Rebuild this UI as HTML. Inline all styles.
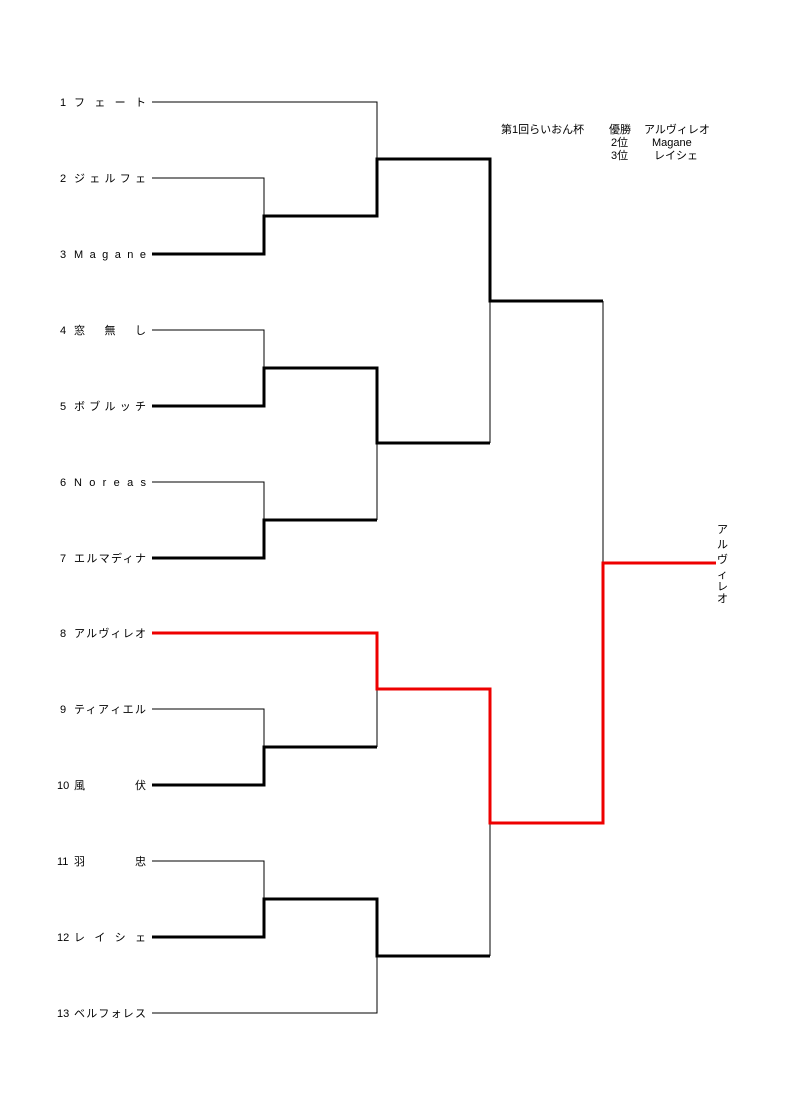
<!DOCTYPE html>
<html><head><meta charset="utf-8"><style>
html,body{margin:0;padding:0;background:#fff;}
svg{display:block;}
text{font-family:"Liberation Sans","Noto Sans CJK JP",sans-serif;font-size:11px;fill:#000;}
</style></head><body>
<svg width="790" height="1115" viewBox="0 0 790 1115" xmlns="http://www.w3.org/2000/svg">
<g fill="none" stroke="#000" stroke-width="1">
<!-- thin lines -->
<path d="M152 102H377V159"/>
<path d="M152 178H264V216"/>
<path d="M152 330H264V368"/>
<path d="M152 482H264V520"/>
<path d="M377 443V520"/>
<path d="M490 301V443"/>
<path d="M603 301V563"/>
<path d="M152 709H264V747"/>
<path d="M377 689V747"/>
<path d="M152 861H264V899"/>
<path d="M152 1013H377V956"/>
<path d="M490 823V956"/>
</g>
<g fill="none" stroke="#000" stroke-width="3" stroke-linejoin="miter">
<path d="M152 254H264V216H377V159H490V301H603"/>
<path d="M152 406H264V368H377V443H490"/>
<path d="M152 558H264V520H377"/>
<path d="M152 785H264V747H377"/>
<path d="M152 937H264V899H377V956H490"/>
</g>
<g fill="none" stroke="#e00" stroke-width="3">
<path d="M152 633H377V689H490V823H603V563H716"/>
</g>
<g>
<text x="60" y="106">1</text><text x="74" y="106" textLength="72" lengthAdjust="spacing">フェート</text>
<text x="60" y="182">2</text><text x="74" y="182" textLength="72" lengthAdjust="spacing">ジェルフェ</text>
<text x="60" y="258">3</text><text x="74" y="258" textLength="72" lengthAdjust="spacing">Magane</text>
<text x="60" y="334">4</text><text x="74" y="334" textLength="72" lengthAdjust="spacing">窓　無　し</text>
<text x="60" y="410">5</text><text x="74" y="410" textLength="72" lengthAdjust="spacing">ボブルッチ</text>
<text x="60" y="486">6</text><text x="74" y="486" textLength="72" lengthAdjust="spacing">Noreas</text>
<text x="60" y="562">7</text><text x="74" y="562" textLength="72" lengthAdjust="spacing">エルマディナ</text>
<text x="60" y="637">8</text><text x="74" y="637" textLength="72" lengthAdjust="spacing">アルヴィレオ</text>
<text x="60" y="713">9</text><text x="74" y="713" textLength="72" lengthAdjust="spacing">ティアィエル</text>
<text x="57" y="789">10</text><text x="74" y="789" textLength="72" lengthAdjust="spacing">風　　　　伏</text>
<text x="57" y="865">11</text><text x="74" y="865" textLength="72" lengthAdjust="spacing">羽　　　　忠</text>
<text x="57" y="941">12</text><text x="74" y="941" textLength="72" lengthAdjust="spacing">レ イ シ ェ</text>
<text x="57" y="1017">13</text><text x="74" y="1017" textLength="72" lengthAdjust="spacing">ベルフォレス</text>
<text x="501" y="133">第1回らいおん杯</text>
<text x="609" y="133">優勝</text><text x="644" y="133">アルヴィレオ</text>
<text x="611" y="146">2位</text><text x="652" y="146">Magane</text>
<text x="611" y="159">3位</text><text x="654" y="159">レイシェ</text>
<text x="717" y="533">ア</text>
<text x="717" y="548">ル</text>
<text x="717" y="563">ヴ</text>
<text x="717" y="578">ィ</text>
<text x="717" y="590">レ</text>
<text x="717" y="602">オ</text>
</g>
</svg>
</body></html>
